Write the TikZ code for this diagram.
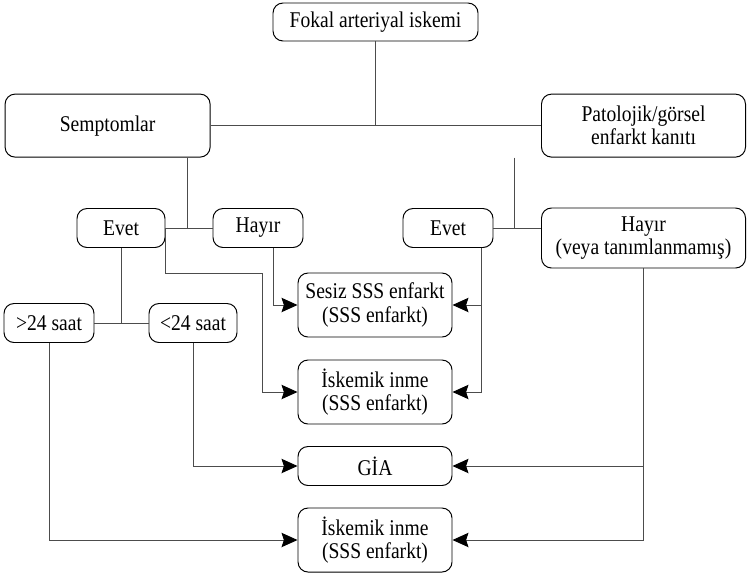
\documentclass[tikz,border=0pt]{standalone}
\usepackage{fontspec}
\setmainfont{Liberation Serif}[FakeStretch=0.87]
\usetikzlibrary{arrows.meta}

\begin{document}
\begin{tikzpicture}[every node/.style={font=\fontsize{16}{16.5}\selectfont},
  box/.style={shape=rectangle,rounded corners=0.25cm,draw,line width=0.7pt,align=center,inner sep=0pt},
  wire/.style={draw=black!70,line width=0.7pt},
  arr/.style={wire,-{Stealth[black,length=0.4cm,width=0.36cm,inset=0.06cm]}}]
\useasboundingbox (0,0) rectangle (18.675,-14.4);

\path (9.3875,-0.55) node (fokal) [box,minimum width=5.125cm,minimum height=0.95cm] {Fokal arteriyal iskemi};
\path (2.69,-3.14) node (sempt) [box,minimum width=5.125cm,minimum height=1.575cm] {Semptomlar};
\path (16.0875,-3.14) node (patol) [box,minimum width=5.1cm,minimum height=1.575cm] {Patolojik/görsel\\enfarkt kanıtı};

\path (3.025,-5.7) node (evetL) [box,minimum width=2.2cm,minimum height=0.975cm] {Evet};
\path (6.45,-5.7) node (hayirL) [box,minimum width=2.25cm,minimum height=0.975cm] {Hayır};
\path (11.2,-5.7) node (evetR) [box,minimum width=2.25cm,minimum height=0.975cm] {Evet};
\path (16.0875,-5.95) node (hayirR) [box,minimum width=5.1cm,minimum height=1.5cm] {Hayır\\(veya tanımlanmamış)};

\path (1.225,-8.075) node (gt24) [box,minimum width=2.25cm,minimum height=0.975cm] {>24 saat};
\path (4.825,-8.075) node (lt24) [box,minimum width=2.2cm,minimum height=0.975cm] {<24 saat};

\path (9.375,-7.625) node (sesiz) [box,minimum width=3.85cm,minimum height=1.6cm] {Sesiz SSS enfarkt\\(SSS enfarkt)};
\path (9.375,-9.8) node (iskemA) [box,minimum width=3.85cm,minimum height=1.6cm] {İskemik inme\\(SSS enfarkt)};
\path (9.375,-11.65) node (gia) [box,minimum width=3.85cm,minimum height=0.975cm] {GİA};
\path (9.375,-13.5) node (iskemB) [box,minimum width=3.85cm,minimum height=1.6cm] {İskemik inme\\(SSS enfarkt)};

\coordinate (jL) at (4.675,-5.7);
\coordinate (jR) at (12.85,-5.7);
\coordinate (kA) at (6.55,-6.825);

% upper tree
\draw [wire] (sempt.east) -- (patol.west);
\draw [wire] (fokal.south) -- (fokal.south |- sempt.east);
\draw [wire] (evetL.east) -- (hayirL.west);
\draw [wire] (sempt.south -| jL) -- (jL);
\draw [wire] (evetR.east) -- (evetR.east -| hayirR.west);
\draw [wire] (patol.south -| jR) -- (jR);
\draw [wire] (gt24.east) -- (lt24.west);
\draw [wire] (evetL.south) -- (evetL.south |- gt24.east);

% outcomes
\draw [arr] (evetL.east) |- (kA) |- (iskemA.west);
\draw [arr] ([xshift=0.375cm]hayirL.south) |- (sesiz.west);
\draw [arr] ([xshift=0.825cm]evetR.south) |- (sesiz.east);
\draw [arr] ([xshift=0.825cm]evetR.south) |- (iskemA.east);
\draw [arr] (lt24.south) |- (gia.west);
\draw [arr] (gt24.south) |- (iskemB.west);
\draw [arr] (hayirR.south) |- (gia.east);
\draw [arr] (hayirR.south) |- (iskemB.east);
\end{tikzpicture}
\end{document}
